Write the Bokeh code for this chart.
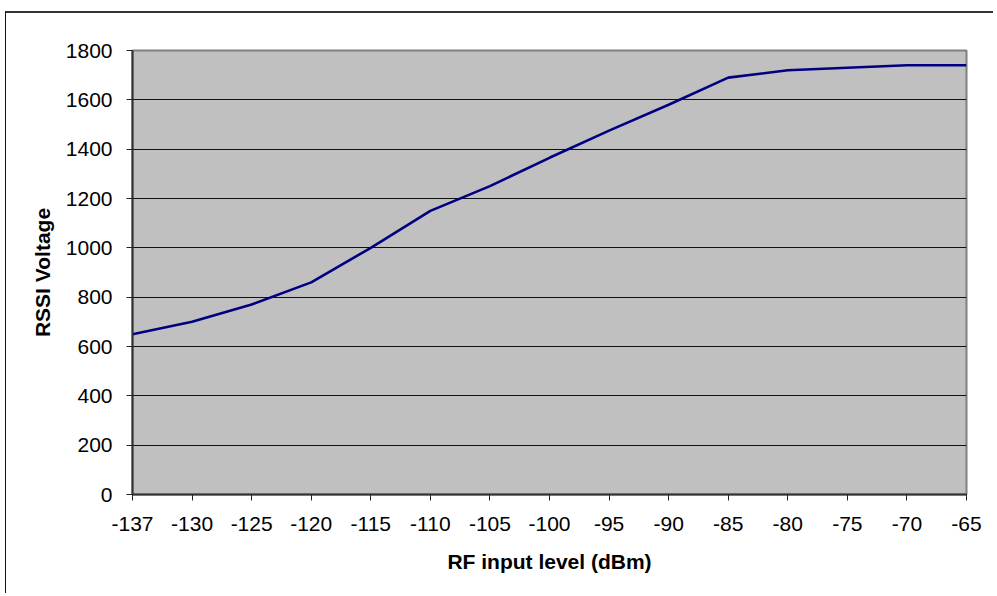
from bokeh.plotting import figure
from bokeh.models import Range1d, FixedTicker
from bokeh.embed import file_html
from bokeh.resources import INLINE

# ---- data ----
rf_levels = ["-137", "-130", "-125", "-120", "-115", "-110", "-105", "-100",
             "-95", "-90", "-85", "-80", "-75", "-70", "-65"]
rssi_voltage = [650, 700, 770, 860, 1000, 1150, 1250, 1365,
                1475, 1580, 1690, 1720, 1730, 1740, 1740]
y_ticks = [0, 200, 400, 600, 800, 1000, 1200, 1400, 1600, 1800]

x_pos = list(range(len(rf_levels)))

FONT = "Liberation Sans"

p = figure(width=988, height=582, output_backend="svg", toolbar_location=None,
           x_range=Range1d(0, len(rf_levels) - 1), y_range=Range1d(y_ticks[0], y_ticks[-1]),
           min_border_left=126, min_border_right=28, min_border_top=37, min_border_bottom=101)

p.styles = {"border-left": "1px solid #111", "border-top": "2px solid #333",
            "margin-left": "5px", "margin-top": "11px"}

p.background_fill_color = "#C0C0C0"
p.border_fill_color = "white"
p.outline_line_color = "#808080"
p.outline_line_width = 2

# grid
p.xgrid.visible = False
p.ygrid.ticker = FixedTicker(ticks=y_ticks[1:-1])
p.ygrid.grid_line_color = "#111111"
p.ygrid.grid_line_width = 1

p.line(x_pos, rssi_voltage, line_color="#000080", line_width=2.6)

for ax in (p.xaxis[0], p.yaxis[0]):
    ax.axis_line_color = "#333333"
    ax.axis_line_width = 2
    ax.major_tick_line_color = "#222222"
    ax.major_tick_line_width = 1
    ax.major_tick_in = 0
    ax.major_tick_out = 6
    ax.minor_tick_line_color = None
    ax.major_label_text_font = FONT
    ax.major_label_text_font_size = "21px"
    ax.major_label_text_color = "black"
    ax.axis_label_text_font = FONT
    ax.axis_label_text_font_size = "21px"
    ax.axis_label_text_font_style = "bold"
    ax.axis_label_text_color = "black"

p.yaxis.ticker = FixedTicker(ticks=y_ticks)
p.yaxis.major_label_standoff = 14
p.yaxis.axis_label = "RSSI Voltage"
p.yaxis.axis_label_standoff = 9

p.xaxis.ticker = FixedTicker(ticks=x_pos)
p.xaxis.major_label_overrides = {i: lab for i, lab in enumerate(rf_levels)}
p.xaxis.major_label_standoff = 16
p.xaxis.axis_label = "RF input level (dBm)"
p.xaxis.axis_label_standoff = 16

open("out.html", "w").write(file_html(p, INLINE))
